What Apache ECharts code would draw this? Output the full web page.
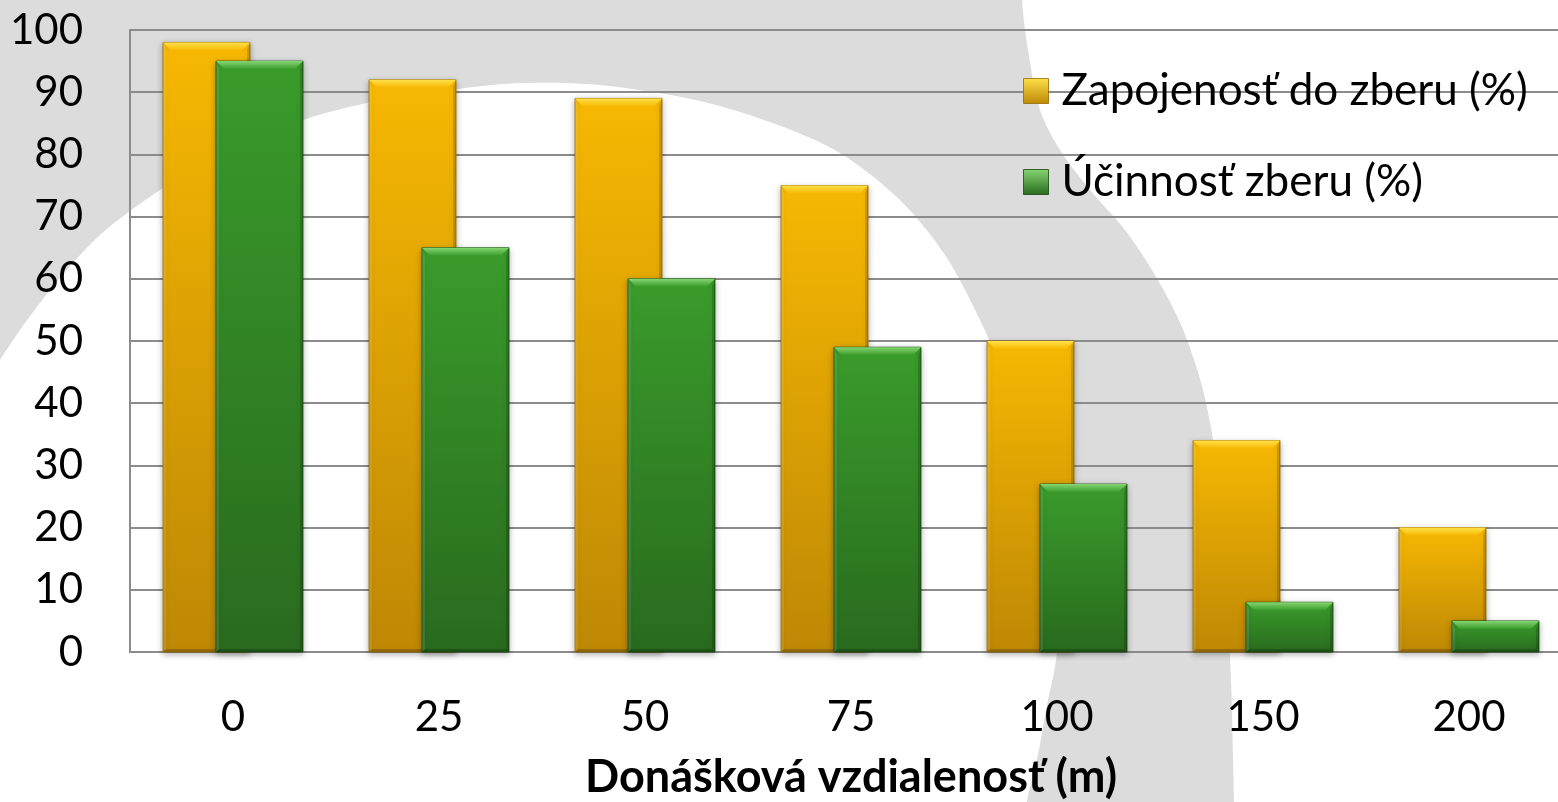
<!DOCTYPE html>
<html>
<head>
<meta charset="utf-8">
<script src="https://cdn.jsdelivr.net/npm/echarts@6/dist/echarts.min.js"></script>
<style>
html, body { margin: 0; padding: 0; background: #fff; }
#showcase { width: 1558px; height: 802px; }
</style>
</head>
<body>
<div id="showcase"></div>
<script>
// data
var distances = ['0', '25', '50', '75', '100', '150', '200'];
var participation = [98, 92, 89, 75, 50, 34, 20];
var efficiency = [95, 65, 60, 49, 27, 8, 5];
var seriesNames = ['Zapojenosť do zberu (%)', 'Účinnosť zberu (%)'];
var axisName = 'Donášková vzdialenosť (m)';

var FONT = 'Lato';

var yellow = {
    top: '#f7b802', bottom: '#bd8805', bevel: '#ffe14a', edge: 'rgba(150,105,0,0.8)'
};
var green = {
    top: '#3a9c2b', bottom: '#296a1e', bevel: '#86d672', edge: 'rgba(20,70,15,0.8)'
};

function grad(c1, c2) {
    return new echarts.graphic.LinearGradient(0, 0, 0, 1, [
        {offset: 0, color: c1},
        {offset: 1, color: c2}
    ]);
}

// bar with bevelled edges, placed through the category/value axes
function bevelBar(shift, col) {
    return function (params, api) {
        var idx = api.value(0);
        var top = api.coord([idx, api.value(1)]);
        var base = api.coord([idx, 0]);
        var cw = api.size([1, 0])[0];
        var w = cw * 0.4223;
        var cx = top[0] + cw * shift;
        var x0 = cx - w / 2, x1 = cx + w / 2, y0 = top[1], y1 = base[1];
        var h = y1 - y0;
        var b = Math.min(8, h / 2);
        var s = 3;
        return {
            type: 'group',
            children: [
                {
                    type: 'rect',
                    shape: {x: x0, y: y0, width: w, height: h},
                    style: {
                        fill: grad(col.top, col.bottom), stroke: col.edge, lineWidth: 1,
                        shadowBlur: 6, shadowColor: 'rgba(0,0,0,0.3)', shadowOffsetY: 2
                    }
                },
                {
                    type: 'polygon',
                    shape: {points: [[x0, y0], [x1, y0], [x1 - b, y0 + b], [x0 + b, y0 + b]]},
                    style: {fill: grad(col.bevel, col.top)}
                },
                {
                    type: 'polygon',
                    shape: {points: [[x1, y0], [x1, y1], [x1 - s, y1 - s], [x1 - s, y0 + b]]},
                    style: {fill: 'rgba(0,0,0,0.15)'}
                },
                {
                    type: 'polygon',
                    shape: {points: [[x0, y1], [x1, y1], [x1 - s, y1 - s], [x0 + s, y1 - s]]},
                    style: {fill: 'rgba(0,0,0,0.2)'}
                },
                {
                    type: 'polygon',
                    shape: {points: [[x0, y0], [x0 + s, y0 + b], [x0 + s, y1 - s], [x0, y1]]},
                    style: {fill: 'rgba(255,255,255,0.1)'}
                }
            ]
        };
    };
}

// grey swoosh in the background
var swoosh = [[-80, -80], [1020, -80], [1022, 0], [1028, 50], [1040, 110], [1060, 150], [1090, 190],
    [1125, 230], [1155, 275], [1182, 327], [1203, 390], [1216, 460], [1225, 560], [1231, 680],
    [1234, 802], [1236, 880], [1022, 880], [1027, 802], [1037, 760], [1047, 705], [1056, 660],
    [1058, 610], [1052, 540], [1035, 460], [1010, 390], [980, 320], [945, 255], [900, 200],
    [840, 153], [778, 125], [700, 101], [600, 85], [520, 83], [450, 90], [367, 103], [300, 121],
    [220, 155], [160, 190], [100, 235], [50, 290], [0, 360], [-80, 500]];

var myChart = echarts.init(document.getElementById('showcase'));
var options = {
    backgroundColor: '#ffffff',
    animation: false,
    textStyle: {fontFamily: FONT, color: '#000'},
    graphic: [{
        type: 'polygon',
        z: -100,
        silent: true,
        shape: {points: swoosh, smooth: 0.3},
        style: {fill: '#dcdcdc'}
    }],
    grid: {left: 130, top: 30, width: 1442, height: 622, outerBoundsMode: 'none', containLabel: false},
    legend: {
        orient: 'vertical',
        left: 1018,
        top: 61,
        itemWidth: 25,
        itemHeight: 25,
        itemGap: 41,
        textStyle: {fontFamily: FONT, fontSize: 44, lineHeight: 50, color: '#000', padding: [0, 0, 0, 8]},
        data: [
            {name: seriesNames[0], icon: 'rect', itemStyle: {color: grad(yellow.bevel, yellow.bottom), borderColor: yellow.edge, borderWidth: 1}},
            {name: seriesNames[1], icon: 'rect', itemStyle: {color: grad(green.bevel, green.bottom), borderColor: green.edge, borderWidth: 1}}
        ]
    },
    xAxis: {
        type: 'category',
        data: distances,
        axisLine: {lineStyle: {color: '#8c8c8c', width: 2}},
        axisTick: {show: false},
        axisLabel: {fontSize: 42, color: '#000', margin: 44, fontFamily: FONT},
        name: axisName,
        nameLocation: 'middle',
        nameGap: 103,
        nameTextStyle: {fontSize: 45, fontWeight: 'bold', color: '#000', fontFamily: FONT}
    },
    yAxis: {
        type: 'value',
        min: 0,
        max: 100,
        interval: 10,
        axisLine: {show: true, lineStyle: {color: '#8c8c8c', width: 2}},
        axisTick: {show: false},
        axisLabel: {fontSize: 42, color: '#000', margin: 47, fontFamily: FONT},
        splitLine: {show: true, lineStyle: {color: '#8c8c8c', width: 2}}
    },
    series: [
        {
            name: seriesNames[0],
            type: 'custom',
            renderItem: bevelBar(-0.1286, yellow),
            itemStyle: {color: yellow.top},
            encode: {x: 0, y: 1},
            data: participation.map(function (v, i) { return [i, v]; })
        },
        {
            name: seriesNames[1],
            type: 'custom',
            renderItem: bevelBar(0.1286, green),
            itemStyle: {color: green.top},
            encode: {x: 0, y: 1},
            data: efficiency.map(function (v, i) { return [i, v]; })
        }
    ]
};

myChart.setOption(options);
</script>
</body>
</html>
